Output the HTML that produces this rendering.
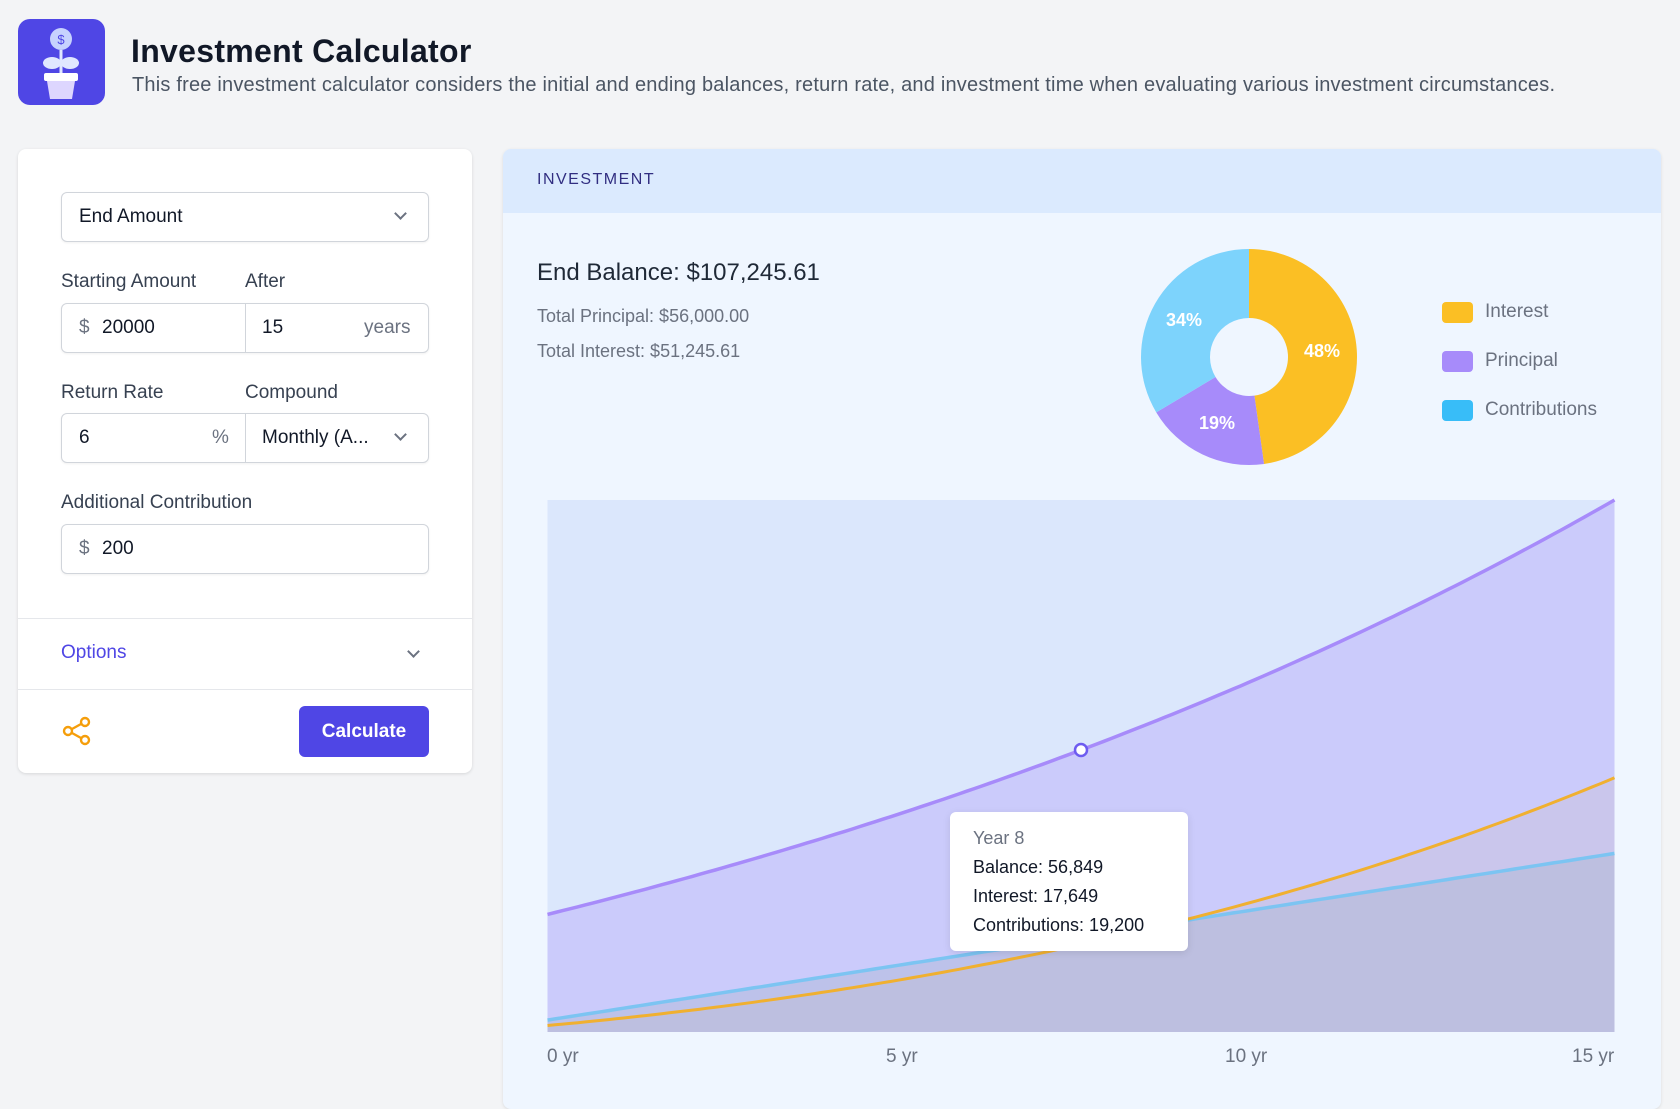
<!DOCTYPE html>
<html><head><meta charset="utf-8"><style>
*{box-sizing:border-box;margin:0;padding:0}
body{width:1680px;height:1100px;background:#f3f4f6;font-family:"Liberation Sans",sans-serif;position:relative;overflow:hidden;color:#111827}
.abs{position:absolute}
.icon{left:18px;top:19px;width:87px;height:86px;background:#4f46e5;border-radius:12px}
h1{position:absolute;left:131px;top:33px;font-size:32px;font-weight:bold;color:#111827;letter-spacing:0.3px}
.sub{left:132px;top:74px;font-size:20px;color:#4b5563;letter-spacing:0.2px}
.card{left:18px;top:149px;width:454px;height:624px;background:#fff;border-radius:8px;box-shadow:0 1px 3px rgba(0,0,0,.12)}
.inp{position:absolute;border:1px solid #d1d5db;border-radius:6px;height:50px;background:#fff;box-shadow:0 1px 2px rgba(0,0,0,.06);font-size:19px;color:#111827}
.lbl{position:absolute;font-size:19px;color:#374151}
.t{position:absolute;top:13px}
.chev{position:absolute;width:9px;height:9px;border-right:2px solid #6b7280;border-bottom:2px solid #6b7280;transform:rotate(45deg)}
.right{left:503px;top:149px;width:1158px;height:960px;background:#eff6ff;border-radius:8px;overflow:hidden;box-shadow:0 1px 3px rgba(0,0,0,.1)}
.hdr{position:absolute;left:0;top:0;width:100%;height:64px;background:#dbeafe}
.gray{color:#6b7280}
</style></head><body>
<div class="abs icon">
<svg width="87" height="86" viewBox="0 0 87 86">
<circle cx="43" cy="20" r="11" fill="#c7d2fe"/><text x="43" y="25" font-size="13" text-anchor="middle" fill="#4f46e5" font-family="Liberation Sans">$</text>
<path d="M43 31 V55" stroke="#e0e7ff" stroke-width="3"/>
<ellipse cx="34" cy="44" rx="9" ry="6" fill="#e0e7ff"/><ellipse cx="52" cy="44" rx="9" ry="6" fill="#e0e7ff"/>
<rect x="26" y="54" width="34" height="8" rx="2" fill="#fff"/>
<path d="M29 62 H57 L54 80 H32 Z" fill="#ddd6fe"/>
</svg></div>
<h1>Investment Calculator</h1>
<div class="abs sub">This free investment calculator considers the initial and ending balances, return rate, and investment time when evaluating various investment circumstances.</div>

<div class="abs card">
 <div class="inp" style="left:43px;top:43px;width:368px"><span class="t" style="left:17px">End Amount</span><span class="chev" style="left:334px;top:16px"></span></div>
 <div class="lbl" style="left:43px;top:122px">Starting Amount</div>
 <div class="lbl" style="left:227px;top:122px">After</div>
 <div class="inp" style="left:43px;top:154px;width:368px"><span class="t gray" style="left:17px">$</span><span class="t" style="left:40px">20000</span>
  <span style="position:absolute;left:183px;top:0;height:48px;border-left:1px solid #d1d5db"></span><span class="t" style="left:200px">15</span><span class="t gray" style="left:302px">years</span></div>
 <div class="lbl" style="left:43px;top:233px">Return Rate</div>
 <div class="lbl" style="left:227px;top:233px">Compound</div>
 <div class="inp" style="left:43px;top:264px;width:368px"><span class="t" style="left:17px">6</span><span class="t gray" style="left:150px">%</span>
  <span style="position:absolute;left:183px;top:0;height:48px;border-left:1px solid #d1d5db"></span><span class="t" style="left:200px">Monthly (A...</span><span class="chev" style="left:334px;top:16px"></span></div>
 <div class="lbl" style="left:43px;top:343px">Additional Contribution</div>
 <div class="inp" style="left:43px;top:375px;width:368px"><span class="t gray" style="left:17px">$</span><span class="t" style="left:40px">200</span></div>
 <div style="position:absolute;left:0;top:469px;width:100%;border-top:1px solid #e5e7eb"></div>
 <div style="position:absolute;left:43px;top:493px;font-size:19px;color:#4f46e5">Options</div>
 <span class="chev" style="left:391px;top:498px"></span>
 <div style="position:absolute;left:0;top:540px;width:100%;border-top:1px solid #e5e7eb"></div>
 <svg style="position:absolute;left:44px;top:567px" width="30" height="30" viewBox="0 0 30 30"><g fill="none" stroke="#f59e0b" stroke-width="2.4"><circle cx="6" cy="15" r="4"/><circle cx="23" cy="6" r="4"/><circle cx="23" cy="24" r="4"/><path d="M10 13 L19 8 M10 17 L19 22"/></g></svg>
 <div style="position:absolute;left:281px;top:557px;width:130px;height:51px;background:#4f46e5;border-radius:6px;color:#fff;font-size:19px;font-weight:bold;text-align:center;line-height:51px">Calculate</div>
</div>

<div class="abs right">
 <div class="hdr"></div>
 <div style="position:absolute;left:34px;top:22px;font-size:16px;letter-spacing:1.5px;color:#312e81">INVESTMENT</div>
 <div style="position:absolute;left:34px;top:110px;font-size:24px;color:#1f2937">End Balance: $107,245.61</div>
 <div style="position:absolute;left:34px;top:157px;font-size:18px;color:#6b7280">Total Principal: $56,000.00</div>
 <div style="position:absolute;left:34px;top:192px;font-size:18px;color:#6b7280">Total Interest: $51,245.61</div>
 <div style="position:absolute;left:939px;top:153px;width:31px;height:21px;border-radius:4px;background:#fbbf24"></div>
 <div style="position:absolute;left:939px;top:202px;width:31px;height:21px;border-radius:4px;background:#a78bfa"></div>
 <div style="position:absolute;left:939px;top:251px;width:31px;height:21px;border-radius:4px;background:#38bdf8"></div>
 <div style="position:absolute;left:982px;top:152px;font-size:19px;color:#6b7280">Interest</div>
 <div style="position:absolute;left:982px;top:201px;font-size:19px;color:#6b7280">Principal</div>
 <div style="position:absolute;left:982px;top:250px;font-size:19px;color:#6b7280">Contributions</div>
</div>
<svg id="ch" class="abs" style="left:0;top:0" width="1680" height="1100"></svg>
<div class="abs" style="left:950px;top:812px;width:238px;height:139px;background:#fff;border-radius:6px;box-shadow:0 2px 8px rgba(0,0,0,.1);font-size:18px;line-height:29px;padding:12px 0 0 23px;color:#111827">
<div class="gray">Year 8</div><div>Balance: 56,849</div><div>Interest: 17,649</div><div>Contributions: 19,200</div></div>
<div class="abs gray" style="left:547px;top:1046px;font-size:19px">0 yr</div>
<div class="abs gray" style="left:886px;top:1046px;font-size:19px">5 yr</div>
<div class="abs gray" style="left:1225px;top:1046px;font-size:19px">10 yr</div>
<div class="abs gray" style="left:1572px;top:1046px;font-size:19px">15 yr</div>
<script>
var s=document.getElementById('ch'),NS='http://www.w3.org/2000/svg';
function el(t,a){var e=document.createElementNS(NS,t);for(var k in a)e.setAttribute(k,a[k]);s.appendChild(e);return e}
var cx=1249,cy=357,rx=108,ry=108,ix=39,iy=39;
function pt(a,r1,r2){return [cx+r1*Math.sin(a),cy-r2*Math.cos(a)]}
function seg(a0,a1,c){var p1=pt(a0,rx,ry),p2=pt(a1,rx,ry),p3=pt(a1,ix,iy),p4=pt(a0,ix,iy),L=(a1-a0)>Math.PI?1:0;
el('path',{d:'M'+p1+' A'+rx+' '+ry+' 0 '+L+' 1 '+p2+' L'+p3+' A'+ix+' '+iy+' 0 '+L+' 0 '+p4+'Z',fill:c})}
var T=2*Math.PI,a1=0.4778*T,a2=a1+0.1866*T;
seg(0,a1,'#fbbf24');seg(a1,a2,'#a78bfa');seg(a2,T,'#7dd3fc');
function lab(x,y,t){var e=el('text',{x:x,y:y,'font-size':18,'font-weight':'bold',fill:'#fff','text-anchor':'middle','font-family':'Liberation Sans'});e.textContent=t}
lab(1322,357,'48%');lab(1217,429,'19%');lab(1184,326,'34%');
el('rect',{x:547.5,y:500,width:1067,height:532,fill:'#dbe7fc'});
function bal(t){var g=Math.pow(1.005,12*t);return 20000*g+200*(g-1)/0.005}
function X(t){return 547.5+(t-1)/14*1067}function Y(v){return 1032-v/107245*532}
function path(f){var d='';for(var i=0;i<=140;i++){var t=1+i/10;d+=(i?'L':'M')+X(t).toFixed(1)+' '+Y(f(t)).toFixed(1)}return d}
var B=path(bal),I=path(function(t){return bal(t)-20000-2400*t}),C=path(function(t){return 2400*t});
var base=' L1614.5 1032 L547.5 1032Z';
el('path',{d:B+base,fill:'rgba(167,139,250,0.3)'});
el('path',{d:I+base,fill:'rgba(200,180,180,0.22)'});
el('path',{d:C+base,fill:'rgba(160,175,195,0.3)'});
el('path',{d:C,fill:'none',stroke:'#7cc4f2','stroke-width':3.5});
el('path',{d:I,fill:'none',stroke:'#f0b030','stroke-width':3});
el('path',{d:B,fill:'none',stroke:'#a78bfa','stroke-width':3.5});
el('circle',{cx:X(8),cy:Y(bal(8)),r:6,fill:'#fff',stroke:'#6d5cf0','stroke-width':2.5});
el('circle',{cx:X(8),cy:Y(19200),r:6,fill:'#fff',stroke:'#6d5cf0','stroke-width':2.5});
</script>
</body></html>
